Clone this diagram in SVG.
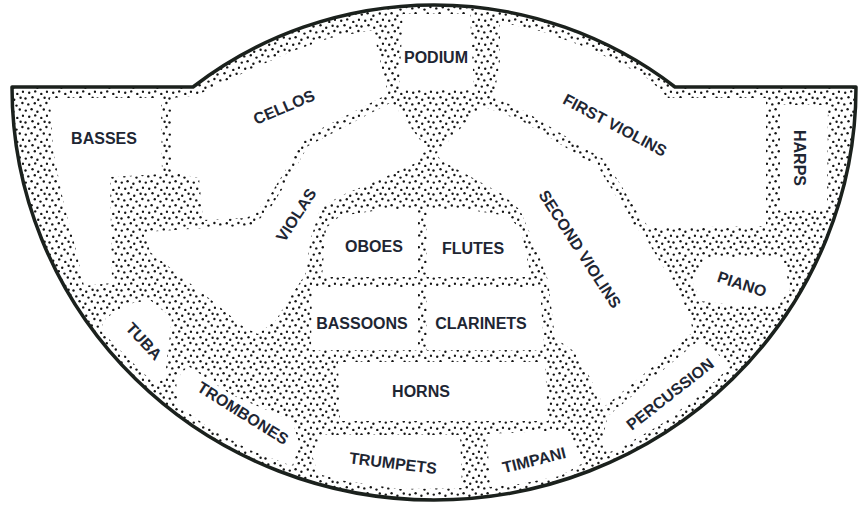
<svg xmlns="http://www.w3.org/2000/svg" width="861" height="510" viewBox="0 0 861 510">
<style>
.region{fill:#ffffff}
.label{font-family:"Liberation Sans",Arial,sans-serif;font-size:16px;font-weight:bold;fill:#1e2633;text-anchor:middle}
.outline{fill:none;stroke:#1b211d;stroke-width:3.5;stroke-linejoin:round}
</style>
<defs>
<pattern id="stipple" patternUnits="userSpaceOnUse" width="24" height="24">
<rect width="24" height="24" fill="#ffffff"/>
<g fill="#141414">
<circle cx="1.5" cy="2.5" r="1.2"/><circle cx="8.5" cy="1.2" r="1.2"/><circle cx="14.2" cy="3.8" r="1.2"/><circle cx="20.6" cy="1.8" r="1.2"/>
<circle cx="4.3" cy="8.4" r="1.2"/><circle cx="10.8" cy="7.2" r="1.2"/><circle cx="16.5" cy="9.6" r="1.2"/><circle cx="22.4" cy="7.0" r="1.2"/>
<circle cx="1.8" cy="14.6" r="1.2"/><circle cx="7.6" cy="13.2" r="1.2"/><circle cx="13.4" cy="15.8" r="1.2"/><circle cx="19.8" cy="13.5" r="1.2"/>
<circle cx="5.2" cy="20.8" r="1.2"/><circle cx="11.2" cy="19.4" r="1.2"/><circle cx="17.3" cy="21.9" r="1.2"/><circle cx="23.0" cy="19.8" r="1.2"/>
</g>
</pattern>
<clipPath id="stage">
<path d="M12,87 L193,87 A395,395 0 0 1 675,87 L856,87 A422,413 0 0 1 12,87 Z"/>
</clipPath>
</defs>
<rect width="861" height="510" fill="#ffffff"/>
<path d="M12,87 L193,87 A395,395 0 0 1 675,87 L856,87 A422,413 0 0 1 12,87 Z" fill="url(#stipple)"/>
<g clip-path="url(#stage)">
<g id="basses"><polygon class="region" points="50,98 161,98 162,174 110,177 112,283 84,286 76,250 63,200 53,150"/><text class="label" x="104" y="144">BASSES</text></g>
<g id="cellos"><polygon class="region" points="171,98 196,96 215,86 250,70 290,52 330,38 373,30 380,60 388,94 303,138 290,163 265,203 247,218 203,220 199,178 171,172"/><text class="label" transform="translate(284,107) rotate(-23)" y="5.7">CELLOS</text></g>
<g id="podium"><polygon class="region" points="403,14 470,14 474,89 399,89"/><text class="label" x="436" y="63">PODIUM</text></g>
<g id="first-violins"><polygon class="region" points="500,22 540,31 580,45 620,63 650,80 668,98 766,98 766,226 650,228 641,218 619,182 605,160 565,136 526,112 494,97 500,60"/><text class="label" transform="translate(615,125) rotate(28)" y="5.7">FIRST VIOLINS</text></g>
<g id="harps"><polygon class="region" points="780,105 828,105 827,210 780,211"/><text class="label" transform="translate(800,158) rotate(90)" y="5.7">HARPS</text></g>
<g id="violas"><polygon class="region" points="145,232 205,228 253,226 271,207 296,167 308,146 392,102 426,148 418,162 376,181 340,196 320,209 311,238 305,275 290,297 276,320 258,334 245,328 215,303 182,277 150,252"/><text class="label" transform="translate(296,215) rotate(-57)" y="5.7">VIOLAS</text></g>
<g id="second-violins"><polygon class="region" points="482,106 522,121 560,144 598,167 611,188 633,224 648,242 665,270 680,294 690,318 693,332 650,369 604,407 600,398 582,362 575,352 555,338 548,280 535,245 520,210 502,194 442,161 436,154"/><text class="label" transform="translate(580,249) rotate(57)" y="5.7">SECOND VIOLINS</text></g>
<g id="oboes"><polygon class="region" points="326,228 340,216 380,210 418,208 418,277 322,277"/><text class="label" x="374" y="252">OBOES</text></g>
<g id="flutes"><polygon class="region" points="427,208 470,210 508,216 521,230 531,277 427,277"/><text class="label" x="473" y="254">FLUTES</text></g>
<g id="bassoons"><polygon class="region" points="312,287 418,287 418,350 311,350"/><text class="label" x="362" y="329">BASSOONS</text></g>
<g id="clarinets"><polygon class="region" points="427,287 540,287 544,350 427,350"/><text class="label" x="481" y="329">CLARINETS</text></g>
<g id="horns"><polygon class="region" points="338,362 545,362 548,421 340,421"/><text class="label" x="421" y="397">HORNS</text></g>
<g id="trumpets"><polygon class="region" points="322,435 460,435 462,488 400,489 345,481 318,474 312,455"/><text class="label" transform="translate(393,463) rotate(7)" y="5.7">TRUMPETS</text></g>
<g id="timpani"><polygon class="region" points="487,434 566,430 585,462 560,476 520,484 490,487"/><text class="label" transform="translate(534,460) rotate(-14)" y="5.7">TIMPANI</text></g>
<g id="percussion"><polygon class="region" points="608,416 650,381 698,341 712,350 732,365 700,395 660,425 625,445 608,453 602,440"/><text class="label" transform="translate(670,394) rotate(-38)" y="5.7">PERCUSSION</text></g>
<g id="piano"><polygon class="region" points="705,258 783,258 790,290 778,305 740,306 700,301 692,280"/><text class="label" transform="translate(742,284) rotate(18)" y="5.7">PIANO</text></g>
<g id="tuba"><polygon class="region" points="106,318 128,304 150,300 172,318 168,350 165,378 155,384 135,365 118,348 100,330"/><text class="label" transform="translate(144,341) rotate(47)" y="5.7">TUBA</text></g>
<g id="trombones"><polygon class="region" points="188,366 232,395 292,421 300,445 292,466 250,450 205,425 178,405 176,380"/><text class="label" transform="translate(243,413) rotate(32)" y="5.7">TROMBONES</text></g>
</g>
<g id="connectors"></g>
<g id="outline"><path class="outline" d="M12,87 L193,87 A395,395 0 0 1 675,87 L856,87 A422,413 0 0 1 12,87 Z"/></g>
</svg>
